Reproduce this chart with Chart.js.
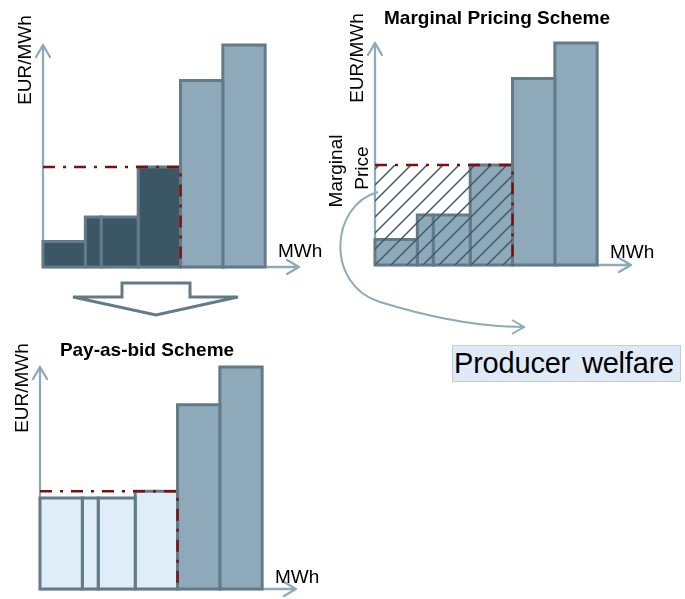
<!DOCTYPE html>
<html><head><meta charset="utf-8">
<script src="https://cdn.jsdelivr.net/npm/chart.js@4.4.0/dist/chart.umd.min.js"></script>
<style>
html,body{margin:0;padding:0;background:#fff;width:685px;height:599px;overflow:hidden}
canvas,svg{position:absolute;left:0;top:0}
#pw{position:absolute;left:452px;top:345px;width:226px;height:35px;background:#deebf7;border:1px solid #c5cdd5;font:29px "Liberation Sans",Arial,sans-serif;line-height:35px;color:#000;white-space:nowrap;padding-left:1px;word-spacing:4px;letter-spacing:-0.2px}
</style></head><body>
<svg width="685" height="599" xmlns="http://www.w3.org/2000/svg">
  <polygon points="122,283 190,283 190,297 238,297 156,315 73,297 122,297" fill="#fff" stroke="#637b88" stroke-width="3" stroke-linejoin="miter"/>
</svg>
<canvas id="c1" width="685" height="599"></canvas>
<canvas id="c2" width="685" height="599"></canvas>
<canvas id="c3" width="685" height="599"></canvas>
<svg width="685" height="599" xmlns="http://www.w3.org/2000/svg" style="pointer-events:none">
  <path d="M378,192 C330,205 325,285 380,302 S480,327 524,327" fill="none" stroke="#8eaabb" stroke-width="2"/>
  <path d="M512,320 L524,327 L512,334" fill="none" stroke="#8eaabb" stroke-width="2"/>
</svg>
<div id="pw">Producer welfare</div>
<script>
// ---- data ----
const blockWidths   = [2, 0.75, 1.75, 2, 2, 2];        // MWh offered per bid block
const costBids      = [11.5, 22.5, 22.5, 45, 84, 100];  // EUR/MWh bids (marginal pricing)
const payAsBidBids  = [41, 41, 41, 44, 83, 100];        // EUR/MWh bids (pay-as-bid)
const acceptedBlocks = 4;
const marginalPrice  = 45;
const payAsBidTop    = 44;
const xAxisMax = 12.1;
const yAxisMax = 100;
const labelX = 'MWh';
const labelY = 'EUR/MWh';
const titleMarginal = 'Marginal Pricing Scheme';
const titlePayAsBid = 'Pay-as-bid Scheme';
const priceLabel = ['Marginal', 'Price'];

const COL = {dark:'#3b5664', light:'#8eaaba', pale:'#deedf8', edge:'#637b88', axis:'#8eaabb', price:'#7a1111', hatch:'#3f5a68'};
const FONT = '"Liberation Sans", Arial, sans-serif';

const edges = [0];
blockWidths.forEach(w => edges.push(edges[edges.length - 1] + w));
const acceptedQty = edges[acceptedBlocks];

function rectPoints(x0, x1, h) {
  return [{x:x0,y:0},{x:x0,y:h},{x:x1,y:h},{x:x1,y:0},{x:x0,y:0}];
}
function blockDatasets(bids, colorFn) {
  return bids.map((b, i) => ({
    data: rectPoints(edges[i], edges[i + 1], b),
    backgroundColor: colorFn(i), borderColor: COL.edge, borderWidth: 3,
    fill: 'shape', pointRadius: 0, borderJoinStyle: 'miter', borderCapStyle: 'square',
    order: 10 + i, clip: false
  }));
}
function priceLine(p) {
  return {
    data: [{x:0,y:p},{x:acceptedQty,y:p},{x:acceptedQty,y:0}],
    borderColor: COL.price, borderWidth: 2.5, borderDash: [12, 8, 3, 8],
    fill: false, pointRadius: 0, order: 0, clip: false
  };
}
function hatchPattern(ctx) {
  const s = 16, c = document.createElement('canvas');
  c.width = s; c.height = s;
  const g = c.getContext('2d');
  g.strokeStyle = COL.hatch; g.lineWidth = 1.5;
  g.beginPath();
  g.moveTo(-1, s + 1); g.lineTo(s + 1, -1);
  g.moveTo(-1, 1); g.lineTo(1, -1);
  g.moveTo(s - 1, s + 1); g.lineTo(s + 1, s - 1);
  g.stroke();
  return ctx.createPattern(c, 'repeat');
}

const axesPlugin = {
  id: 'arrowAxes',
  beforeDatasetsDraw(chart) {
    const {ctx, chartArea: a, scales: {x, y}} = chart;
    const ox = x.getPixelForValue(0), oy = y.getPixelForValue(0);
    ctx.save();
    ctx.strokeStyle = COL.axis; ctx.lineWidth = 2.3; ctx.lineCap = 'round'; ctx.lineJoin = 'round';
    ctx.beginPath();
    ctx.moveTo(ox, oy); ctx.lineTo(ox, a.top);
    ctx.moveTo(ox, oy); ctx.lineTo(a.right, oy);
    ctx.moveTo(ox - 7, a.top + 12); ctx.lineTo(ox, a.top); ctx.lineTo(ox + 7, a.top + 12);
    ctx.moveTo(a.right - 12, oy - 7); ctx.lineTo(a.right, oy); ctx.lineTo(a.right - 12, oy + 7);
    ctx.stroke();
    ctx.restore();
  },
  afterDraw(chart, args, opts) {
    const ctx = chart.ctx;
    (opts.texts || []).forEach(t => {
      ctx.save();
      ctx.fillStyle = '#000';
      ctx.font = (t.bold ? 'bold ' : '') + (t.size || 19) + 'px ' + FONT;
      ctx.textAlign = t.align || 'left';
      ctx.textBaseline = 'alphabetic';
      ctx.translate(t.x, t.y);
      if (t.rot) ctx.rotate(-Math.PI / 2);
      ctx.fillText(t.text, 0, 0);
      ctx.restore();
    });
  }
};

function makeChart(id, datasets, pad, texts) {
  return new Chart(document.getElementById(id), {
    type: 'line',
    data: {datasets},
    options: {
      responsive: false, animation: false,
      layout: {padding: pad},
      scales: {
        x: {type: 'linear', min: 0, max: xAxisMax, display: false},
        y: {type: 'linear', min: 0, max: yAxisMax, display: false}
      },
      elements: {line: {tension: 0}},
      plugins: {legend: {display: false}, tooltip: {enabled: false}, arrowAxes: {texts}}
    },
    plugins: [axesPlugin]
  });
}

// Panel 1: merit order
makeChart('c1',
  [priceLine(marginalPrice), ...blockDatasets(costBids, i => i < acceptedBlocks ? COL.dark : COL.light)],
  {left: 43, top: 45, right: 386, bottom: 332},
  [
    {text: labelY, x: 31, y: 60, rot: true, align: 'center'},
    {text: labelX, x: 278, y: 257}
  ]);

// Panel 2: marginal pricing
const c2 = document.getElementById('c2');
const hatch = hatchPattern(c2.getContext('2d'));
makeChart('c2',
  [priceLine(marginalPrice),
   {data: rectPoints(0, acceptedQty, marginalPrice), backgroundColor: hatch, borderColor: 'rgba(0,0,0,0)',
    borderWidth: 1, fill: 'shape', pointRadius: 0, order: 1, clip: false},
   ...blockDatasets(costBids, () => COL.light)],
  {left: 375, top: 43, right: 54, bottom: 334},
  [
    {text: titleMarginal, x: 497, y: 24, bold: true, align: 'center'},
    {text: labelY, x: 363, y: 58, rot: true, align: 'center'},
    {text: priceLabel[0], x: 342, y: 171, rot: true, align: 'center'},
    {text: priceLabel[1], x: 368, y: 168, rot: true, align: 'center'},
    {text: labelX, x: 610, y: 258}
  ]);

// Panel 3: pay-as-bid
makeChart('c3',
  [priceLine(payAsBidTop), ...blockDatasets(payAsBidBids, i => i < acceptedBlocks ? COL.pale : COL.light)],
  {left: 40, top: 367, right: 389, bottom: 10},
  [
    {text: titlePayAsBid, x: 147, y: 356, bold: true, align: 'center'},
    {text: labelY, x: 28, y: 388, rot: true, align: 'center'},
    {text: labelX, x: 275, y: 583}
  ]);
</script>
</body></html>
